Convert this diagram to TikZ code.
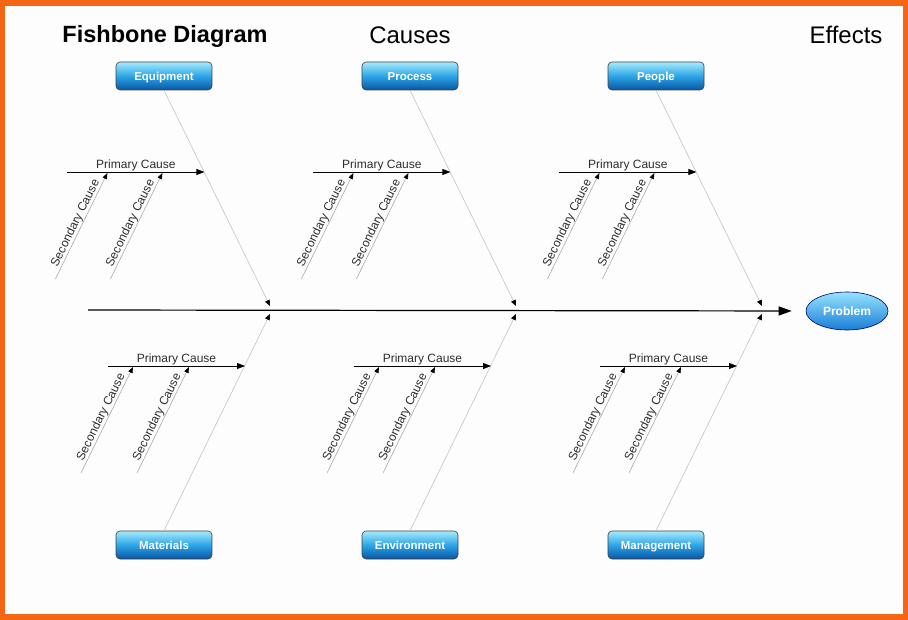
\documentclass[tikz,border=0pt]{standalone}
\usepackage{fontspec}
\setmainfont{Liberation Sans}
\usetikzlibrary{arrows.meta,shapes.geometric,calc}
\definecolor{framecol}{RGB}{245,102,20}
\definecolor{boxtop}{RGB}{165,235,252}
\definecolor{boxmid}{RGB}{45,165,230}
\definecolor{boxbot}{RGB}{8,85,165}
\definecolor{probtop}{RGB}{150,228,252}
\definecolor{probbot}{RGB}{25,125,215}
\definecolor{bonecol}{RGB}{195,195,195}
\definecolor{seccol}{RGB}{170,170,170}
\definecolor{txtcol}{RGB}{45,45,45}
\definecolor{paper}{RGB}{253,253,253}
\begin{document}
\begin{tikzpicture}[x=1pt,y=-1pt,
  catbox/.style={draw=black!75, line width=0.6pt, rounded corners=4pt,
    minimum width=96pt, minimum height=28pt, inner sep=0pt,
    text height=8.2pt, text depth=0pt,
    top color=boxtop, bottom color=boxbot, middle color=boxmid,
    text=white, font=\bfseries\fontsize{11.5}{12}\selectfont},
  probnode/.style={ellipse, draw=blue!45!black, line width=0.6pt,
    minimum width=82pt, minimum height=38pt, inner sep=0pt,
    text height=8.6pt, text depth=0pt,
    top color=probtop, bottom color=probbot,
    text=white, font=\bfseries\fontsize{12}{13}\selectfont},
  spinearrow/.style={draw=black, line width=1.2pt, -{Triangle[length=13pt,width=9pt]}},
  bonearrow/.style={draw=bonecol, line width=0.6pt, -{Triangle[black,length=6pt,width=5pt]}},
  primarrow/.style={draw=black, line width=0.8pt, -{Triangle[length=8pt,width=6pt]}},
  secarrow/.style={draw=seccol, line width=0.6pt, -{Triangle[black,length=6pt,width=4.5pt]}},
  lbl/.style={text=txtcol, font=\fontsize{12}{13}\selectfont, inner sep=0.5pt},
  headline/.style={anchor=base, text=black},
]
% frame
\fill[framecol] (0,0) rectangle (908,620);
\fill[paper] (5,6) rectangle (903,614);
\useasboundingbox (0,0) rectangle (908,620);

% headings
\node[headline, font=\bfseries\fontsize{23.5}{26}\selectfont] (title) at (165,43) {Fishbone Diagram};
\node[headline, font=\fontsize{24}{26}\selectfont] (causes) at (410,44) {Causes};
\node[headline, font=\fontsize{24}{26}\selectfont] (effects) at (846,44) {Effects};

% category boxes
\node[catbox] (eq)  at (164,76) {Equipment};
\node[catbox] (pr)  at (410,76) {Process};
\node[catbox] (pe)  at (656,76) {People};
\node[catbox] (ma)  at (164,545) {Materials};
\node[catbox] (en)  at (410,545) {Environment};
\node[catbox] (mg)  at (656,545) {Management};

% problem
\node[probnode] (prob) at (847,311) {Problem};

% spine
\coordinate (sp) at (88,310);
\draw[spinearrow, shorten >=14pt] (sp) -- (prob.west);

% top groups
\foreach \i/\b/\cx in {1/eq/164,2/pr/410,3/pe/656}{
  \coordinate (jt\i) at (\cx+106,306);
  \draw[bonearrow] (\b.south) -- (jt\i);
  \coordinate (pte\i) at (\cx+40.4,172);
  \coordinate (pts\i) at (\cx+40.4-137,172);
  \draw[primarrow] (pts\i) -- node[lbl, above, midway] {Primary Cause} (pte\i);
  \coordinate (ta\i) at (\cx+40.4-97,173);
  \coordinate (tb\i) at (\cx+40.4-42,173);
  \coordinate (sa\i) at ($(ta\i)+(-52,106)$);
  \coordinate (sb\i) at ($(tb\i)+(-52,106)$);
  \draw[secarrow] (sa\i) -- node[lbl, sloped, above, midway] {Secondary Cause} (ta\i);
  \draw[secarrow] (sb\i) -- node[lbl, sloped, above, midway] {Secondary Cause} (tb\i);
}

% bottom groups
\foreach \i/\b/\cx in {4/ma/164,5/en/410,6/mg/656}{
  \coordinate (jb\i) at (\cx+106,314);
  \draw[bonearrow] (\b.north) -- (jb\i);
  \coordinate (pte\i) at (\cx+81,366);
  \coordinate (pts\i) at (\cx+81-137,366);
  \draw[primarrow] (pts\i) -- node[lbl, above, midway] {Primary Cause} (pte\i);
  \coordinate (ta\i) at (\cx+81-112,367);
  \coordinate (tb\i) at (\cx+81-56,367);
  \coordinate (sa\i) at ($(ta\i)+(-52,106)$);
  \coordinate (sb\i) at ($(tb\i)+(-52,106)$);
  \draw[secarrow] (sa\i) -- node[lbl, sloped, above, midway] {Secondary Cause} (ta\i);
  \draw[secarrow] (sb\i) -- node[lbl, sloped, above, midway] {Secondary Cause} (tb\i);
}
\end{tikzpicture}
\end{document}
